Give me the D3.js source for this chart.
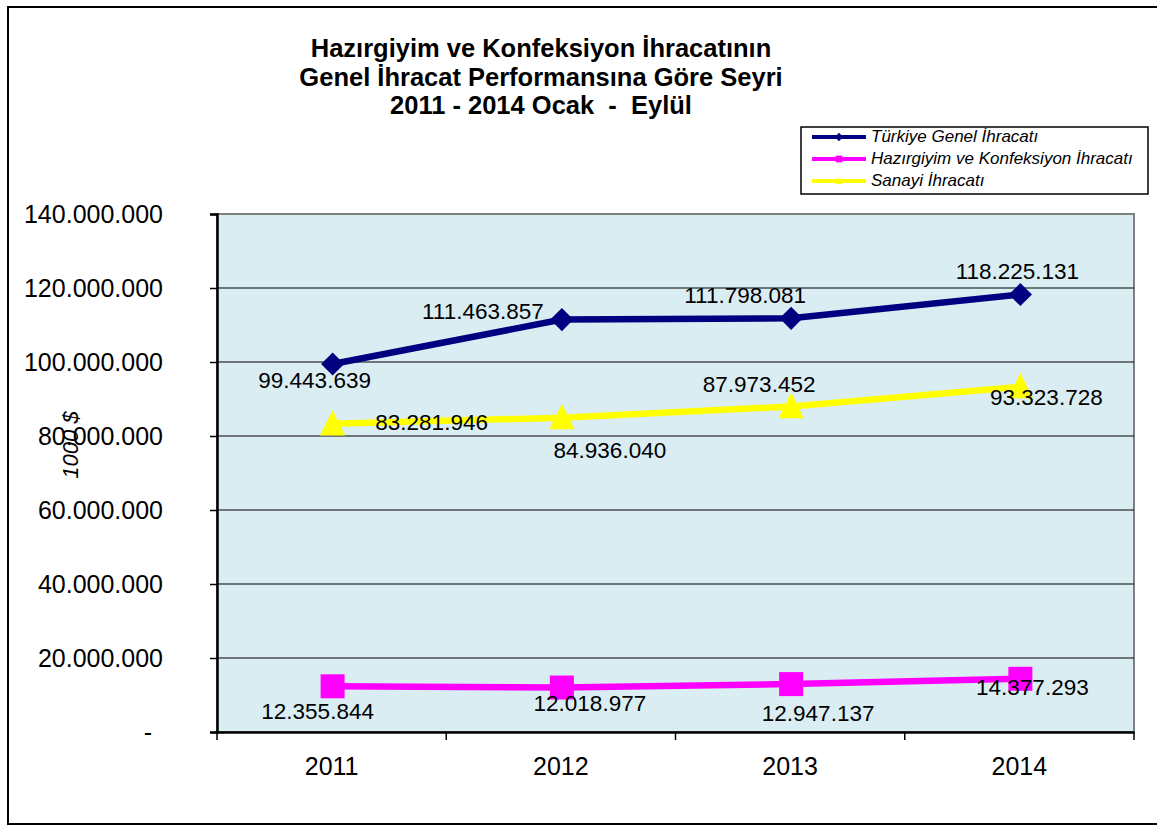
<!DOCTYPE html>
<html>
<head>
<meta charset="utf-8">
<script src="https://cdn.jsdelivr.net/npm/d3@7"></script>
<style>
  body { margin: 0; background: #fff; }
  text { font-family: Arial, "Liberation Sans", sans-serif; white-space: pre; }
</style>
</head>
<body>
<svg id="chart" width="1157" height="827"></svg>
<script>
'use strict';

// values (1000 $)
var years = ['2011', '2012', '2013', '2014'];
var genelIhracat = [99443639, 111463857, 111798081, 118225131];
var hazirgiyimIhracat = [12355844, 12018977, 12947137, 14377293];
var sanayiIhracat = [83281946, 84936040, 87973452, 93323728];
var yTicks = [0, 20000000, 40000000, 60000000, 80000000, 100000000, 120000000, 140000000];
var titleLines = ['Hazırgiyim ve Konfeksiyon İhracatının', 'Genel İhracat Performansına Göre Seyri', '2011 - 2014 Ocak  -  Eylül'];

// where each data label sits relative to its point
var genelLabelPos = [[-18, 18], [-79, -7], [-46, -21], [-3, -22]];
var hazirLabelPos = [[-15, 27], [28, 18], [27, 31], [12, 10]];
var sanayiLabelPos = [[99, 0], [48, 34], [-32, -20], [26, 12]];

var series = [
    { name: 'Türkiye Genel İhracatı', values: genelIhracat, color: '#000080', marker: 'diamond', labels: genelLabelPos },
    { name: 'Hazırgiyim ve Konfeksiyon İhracatı', values: hazirgiyimIhracat, color: '#FF00FF', marker: 'square', labels: hazirLabelPos },
    { name: 'Sanayi İhracatı', values: sanayiIhracat, color: '#FFFF00', marker: 'triangle', labels: sanayiLabelPos }
];

var svg = d3.select('#chart');

var plotLeft = 217, plotRight = 1134, plotTop = 214, plotBottom = 732;

var x = d3.scaleBand().domain(years).range([plotLeft, plotRight]);
var y = d3.scaleLinear().domain([0, 140000000]).range([plotBottom, plotTop]);

function fmt(v) {
    if (v === 0) { return '-'; }
    return d3.format(',')(v).replace(/,/g, '.');
}

// tall triangle like the Excel marker
var tallTriangle = {
    draw: function (context, size) {
        var s = Math.sqrt(size);
        context.moveTo(0, -0.54 * s);
        context.lineTo(0.5 * s, 0.46 * s);
        context.lineTo(-0.5 * s, 0.46 * s);
        context.closePath();
    }
};

var markerTypes = { diamond: d3.symbolDiamond2, square: d3.symbolSquare, triangle: tallTriangle };
var markerSizes = { diamond: 340, square: 576, triangle: 640 };

// outer frame
svg.append('rect')
    .attr('x', 8).attr('y', 7)
    .attr('width', 1160).attr('height', 817)
    .attr('fill', 'none')
    .attr('stroke', '#000')
    .attr('stroke-width', 2);

// title
svg.append('g').selectAll('text')
    .data(titleLines)
    .enter().append('text')
    .attr('x', 541)
    .attr('y', function (d, i) { return 57 + i * 28.5; })
    .attr('text-anchor', 'middle')
    .style('font-size', '25.5px')
    .style('font-weight', 'bold')
    .text(function (d) { return d; });

// plot area
svg.append('rect')
    .attr('x', plotLeft).attr('y', plotTop)
    .attr('width', plotRight - plotLeft).attr('height', plotBottom - plotTop)
    .attr('fill', '#DAEDF3')
    .attr('stroke', '#808080')
    .attr('stroke-width', 2);

// gridlines
svg.append('g').selectAll('line')
    .data(yTicks.filter(function (d) { return d > 0; }))
    .enter().append('line')
    .attr('x1', plotLeft).attr('x2', plotRight)
    .attr('y1', function (d) { return y(d); })
    .attr('y2', function (d) { return y(d); })
    .attr('stroke', function (d) { return d === 140000000 ? '#808080' : '#000'; })
    .attr('stroke-width', function (d) { return d === 140000000 ? 2 : 1; });

// y axis
var yAxis = svg.append('g')
    .attr('transform', 'translate(' + plotLeft + ',0)')
    .call(d3.axisLeft(y).tickValues(yTicks).tickFormat(fmt).tickSize(7).tickPadding(47));
yAxis.select('.domain').attr('stroke', '#000').attr('stroke-width', 2.5);
yAxis.selectAll('.tick line').attr('stroke', '#000').attr('stroke-width', 1.5);
yAxis.selectAll('.tick text')
    .style('font-size', '25px')
    .attr('fill', '#000')
    .attr('dx', function (d) { return d === 0 ? -11 : 0; });

// x axis
var xAxis = svg.append('g')
    .attr('transform', 'translate(0,' + plotBottom + ')')
    .call(d3.axisBottom(x).tickSize(0).tickPadding(25));
xAxis.select('.domain').attr('stroke', '#000').attr('stroke-width', 2.5);
xAxis.selectAll('.tick text')
    .style('font-size', '25px')
    .attr('fill', '#000');

// category boundary ticks
var bounds = years.map(function (d) { return x(d); }).concat([plotRight]);
svg.append('g').selectAll('line')
    .data(bounds)
    .enter().append('line')
    .attr('x1', function (d) { return d; })
    .attr('x2', function (d) { return d; })
    .attr('y1', plotBottom).attr('y2', plotBottom + 8)
    .attr('stroke', '#000')
    .attr('stroke-width', 1.5);

// y axis title
svg.append('text')
    .attr('transform', 'translate(72,445) rotate(-90)')
    .attr('text-anchor', 'middle')
    .attr('dominant-baseline', 'middle')
    .style('font-size', '22px')
    .style('font-style', 'italic')
    .text('1000 $');

function cx(i) { return x(years[i]) + x.bandwidth() / 2 + 1; }

var line = d3.line()
    .x(function (d, i) { return cx(i); })
    .y(function (d) { return y(d); });

// series lines + markers
series.forEach(function (s) {
    var g = svg.append('g');
    g.append('path')
        .datum(s.values)
        .attr('d', line)
        .attr('fill', 'none')
        .attr('stroke', s.color)
        .attr('stroke-width', 6.5);
    g.selectAll('path.marker')
        .data(s.values)
        .enter().append('path')
        .attr('class', 'marker')
        .attr('d', d3.symbol().type(markerTypes[s.marker]).size(markerSizes[s.marker]))
        .attr('transform', function (d, i) {
            return 'translate(' + cx(i) + ',' + y(d) + ')';
        })
        .attr('fill', s.color);
});

// data labels
series.forEach(function (s) {
    svg.append('g').selectAll('text')
        .data(s.values)
        .enter().append('text')
        .attr('x', function (d, i) { return cx(i) + s.labels[i][0]; })
        .attr('y', function (d, i) { return y(d) + s.labels[i][1]; })
        .attr('text-anchor', 'middle')
        .attr('dominant-baseline', 'middle')
        .style('font-size', '22.5px')
        .attr('fill', '#000')
        .text(function (d) { return fmt(d); });
});

// legend
var legend = svg.append('g');
legend.append('rect')
    .attr('x', 801).attr('y', 127)
    .attr('width', 347).attr('height', 67)
    .attr('fill', '#fff')
    .attr('stroke', '#000')
    .attr('stroke-width', 1.5);
var item = legend.selectAll('g.item')
    .data(series)
    .enter().append('g')
    .attr('class', 'item')
    .attr('transform', function (d, i) { return 'translate(0,' + (137 + i * 22) + ')'; });
item.append('line')
    .attr('x1', 812).attr('x2', 866)
    .attr('y1', 0).attr('y2', 0)
    .attr('stroke', function (d) { return d.color; })
    .attr('stroke-width', 4);
item.append('path')
    .attr('d', function (d) { return d3.symbol().type(markerTypes[d.marker]).size(45)(); })
    .attr('transform', 'translate(839,0)')
    .attr('fill', function (d) { return d.color; });
item.append('text')
    .attr('x', 871)
    .attr('y', 1)
    .attr('dominant-baseline', 'middle')
    .style('font-size', '17px')
    .style('font-style', 'italic')
    .text(function (d) { return d.name; });
</script>
</body>
</html>
